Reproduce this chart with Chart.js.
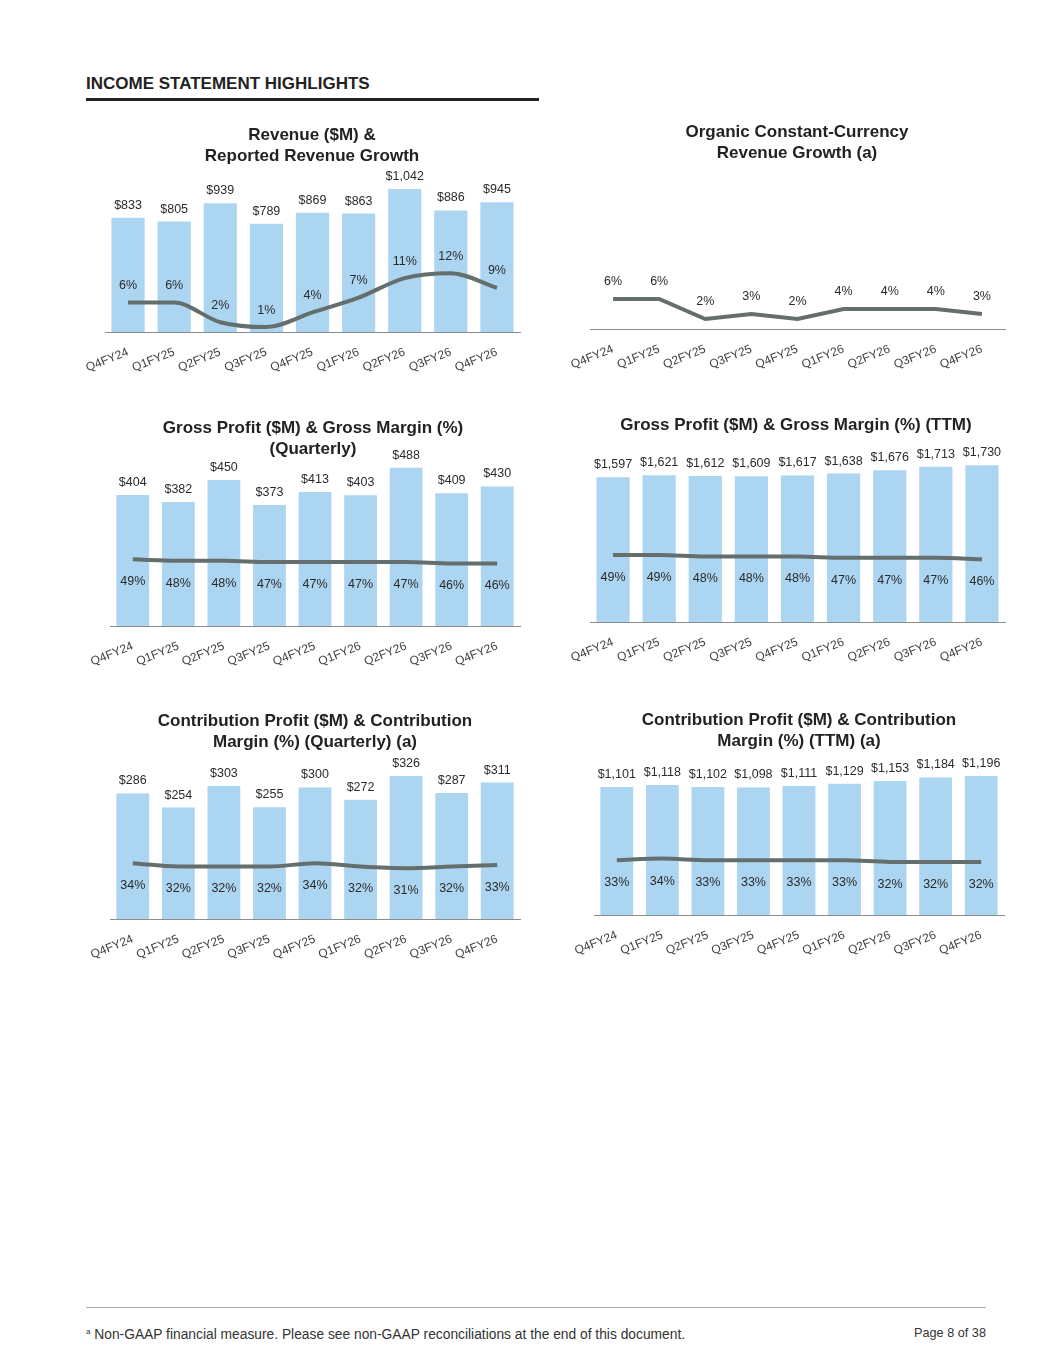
<!DOCTYPE html>
<html>
<head>
<meta charset="utf-8">
<script src="https://cdn.jsdelivr.net/npm/chart.js@4.4.1/dist/chart.umd.min.js"></script>
<style>
  body { margin: 0; background: #fff; font-family: "Liberation Sans", Arial, sans-serif; }
  #page { position: relative; width: 1055px; height: 1365px; overflow: hidden; }
  .hdr { position: absolute; left: 86px; top: 74px; font-size: 17px; font-weight: bold; color: #222; line-height: 20px; }
  .hdr-rule { position: absolute; left: 86px; top: 98px; width: 453px; height: 3px; background: #222; }
  .ttl { position: absolute; transform: translateX(-50%); text-align: center; white-space: nowrap;
         font-size: 17px; font-weight: bold; color: #222; line-height: 21px; z-index: 2; }
  canvas { position: absolute; }
  .foot-rule { position: absolute; left: 86px; top: 1307px; width: 900px; height: 1px; background: #aaa; }
  .foot { position: absolute; color: #333; line-height: 16px; }
  .foot sup { font-size: 8px; vertical-align: 5px; }
</style>
</head>
<body>
<div id="page">
  <div class="hdr">INCOME STATEMENT HIGHLIGHTS</div>
  <div class="hdr-rule"></div>

  <div class="ttl" style="left:312px;top:124px">Revenue ($M) &amp;<br>Reported Revenue Growth</div>
  <div class="ttl" style="left:797px;top:121px">Organic Constant-Currency<br>Revenue Growth (a)</div>
  <div class="ttl" style="left:313px;top:417px">Gross Profit ($M) &amp; Gross Margin (%)<br>(Quarterly)</div>
  <div class="ttl" style="left:796px;top:414px">Gross Profit ($M) &amp; Gross Margin (%) (TTM)</div>
  <div class="ttl" style="left:315px;top:710px">Contribution Profit ($M) &amp; Contribution<br>Margin (%) (Quarterly) (a)</div>
  <div class="ttl" style="left:799px;top:709px">Contribution Profit ($M) &amp; Contribution<br>Margin (%) (TTM) (a)</div>

  <canvas id="cRevenue"></canvas>
  <canvas id="cOrganic"></canvas>
  <canvas id="cGpQ"></canvas>
  <canvas id="cGpTtm"></canvas>
  <canvas id="cCpQ"></canvas>
  <canvas id="cCpTtm"></canvas>

  <div class="foot-rule"></div>
  <div class="foot" style="left:86px;top:1324px;font-size:13.8px"><sup>a</sup> Non-GAAP financial measure. Please see non-GAAP reconciliations at the end of this document.</div>
  <div class="foot" style="right:69px;top:1325px;font-size:12.7px">Page 8 of 38</div>
</div>

<script>
// ---------------------------- data ----------------------------
const quarters = ['Q4FY24', 'Q1FY25', 'Q2FY25', 'Q3FY25', 'Q4FY25', 'Q1FY26', 'Q2FY26', 'Q3FY26', 'Q4FY26'];

const revenue = [833, 805, 939, 789, 869, 863, 1042, 886, 945];
const revenueGrowth = [6, 6, 2, 1, 4, 7, 11, 12, 9];
const organicGrowth = [6, 6, 2, 3, 2, 4, 4, 4, 3];

const grossProfitQ = [404, 382, 450, 373, 413, 403, 488, 409, 430];
const grossMarginQ = [49, 48, 48, 47, 47, 47, 47, 46, 46];
const grossProfitTtm = [1597, 1621, 1612, 1609, 1617, 1638, 1676, 1713, 1730];
const grossMarginTtm = [49, 49, 48, 48, 48, 47, 47, 47, 46];

const contribProfitQ = [286, 254, 303, 255, 300, 272, 326, 287, 311];
const contribMarginQ = [34, 32, 32, 32, 34, 32, 31, 32, 33];
const contribProfitTtm = [1101, 1118, 1102, 1098, 1111, 1129, 1153, 1184, 1196];
const contribMarginTtm = [33, 34, 33, 33, 33, 33, 32, 32, 32];

// ---------------------------- look ----------------------------
const FONT = '"Liberation Sans", Arial, sans-serif';
const BAR_COLOR = '#acd5f1';
const LINE_COLOR = '#646e6d';
const PAD_L = 45, PAD_R = 20, PAD_T = 40, AXIS_H = 60, PLOT_H = 170;

Chart.defaults.font.family = FONT;
Chart.defaults.animation = false;

// draws the $ / % labels next to bars and line points
const valueLabels = {
    id: 'valueLabels',
    afterDatasetsDraw(chart) {
        const ctx = chart.ctx;
        chart.data.datasets.forEach((ds, i) => {
            if (!ds.labelKind) return;
            const meta = chart.getDatasetMeta(i);
            ctx.save();
            ctx.font = '12.5px ' + FONT;
            ctx.fillStyle = '#2b2b2b';
            ctx.textAlign = 'center';
            ctx.textBaseline = 'middle';
            meta.data.forEach((el, j) => {
                const v = ds.data[j];
                const txt = ds.labelKind === 'usd' ? '$' + v.toLocaleString('en-US') : v + '%';
                ctx.fillText(txt, el.x, el.y + ds.labelDy);
            });
            ctx.restore();
        });
    }
};

function makeChart(id, box, bars, line) {
    const canvas = document.getElementById(id);
    const top = box.B - PLOT_H;
    canvas.width = box.R - box.L + PAD_L + PAD_R;
    canvas.height = PAD_T + PLOT_H + AXIS_H;
    canvas.style.left = (box.L - PAD_L) + 'px';
    canvas.style.top = (top - PAD_T) + 'px';

    const datasets = [{
        type: 'line',
        data: line.data,
        yAxisID: 'y1',
        borderColor: LINE_COLOR,
        borderWidth: 4,
        pointRadius: 0,
        cubicInterpolationMode: line.smooth ? 'monotone' : 'default',
        tension: 0,
        order: 0,
        labelKind: 'pct',
        labelDy: line.labelDy
    }];
    if (bars) {
        datasets.push({
            type: 'bar',
            data: bars.data,
            yAxisID: 'y',
            backgroundColor: BAR_COLOR,
            barPercentage: 0.72,
            categoryPercentage: 1.0,
            order: 1,
            labelKind: 'usd',
            labelDy: -12.5
        });
    }

    return new Chart(canvas, {
        type: 'bar',
        data: { labels: quarters, datasets: datasets },
        options: {
            responsive: false,
            layout: { padding: { left: PAD_L, right: PAD_R, top: PAD_T, bottom: 0 } },
            plugins: { legend: { display: false }, tooltip: { enabled: false } },
            scales: {
                x: {
                    offset: true,
                    grid: { display: false, drawTicks: false },
                    border: { display: true, color: '#8c8c8c', width: 1 },
                    ticks: {
                        color: '#404040',
                        font: { size: 12 },
                        minRotation: 22,
                        maxRotation: 22,
                        autoSkip: false,
                        padding: 13
                    },
                    afterFit: s => { s.height = AXIS_H; s.paddingLeft = 0; s.paddingRight = 0; }
                },
                y: { display: false, min: 0, max: bars ? PLOT_H / bars.pxPer : 1 },
                y1: { display: false, min: 0, max: PLOT_H / line.pxPer }
            }
        },
        plugins: [valueLabels]
    });
}

// ---------------------------- charts ----------------------------
makeChart('cRevenue', { L: 105, R: 520, B: 332 },
    { data: revenue, pxPer: 0.1372 },
    { data: revenueGrowth, pxPer: 4.9, smooth: true, labelDy: -17 });

makeChart('cOrganic', { L: 590, R: 1005, B: 329 },
    null,
    { data: organicGrowth, pxPer: 5.0, smooth: false, labelDy: -17 });

makeChart('cGpQ', { L: 110, R: 520, B: 626 },
    { data: grossProfitQ, pxPer: 0.3244 },
    { data: grossMarginQ, pxPer: 1.36, smooth: true, labelDy: 22.5 });

makeChart('cGpTtm', { L: 590, R: 1005, B: 622 },
    { data: grossProfitTtm, pxPer: 0.0906 },
    { data: grossMarginTtm, pxPer: 1.365, smooth: true, labelDy: 22.5 });

makeChart('cCpQ', { L: 110, R: 520, B: 919 },
    { data: contribProfitQ, pxPer: 0.4387 },
    { data: contribMarginQ, pxPer: 1.64, smooth: true, labelDy: 22.5 });

makeChart('cCpTtm', { L: 594, R: 1004, B: 915 },
    { data: contribProfitTtm, pxPer: 0.1162 },
    { data: contribMarginTtm, pxPer: 1.66, smooth: true, labelDy: 22.5 });
</script>
</body>
</html>
